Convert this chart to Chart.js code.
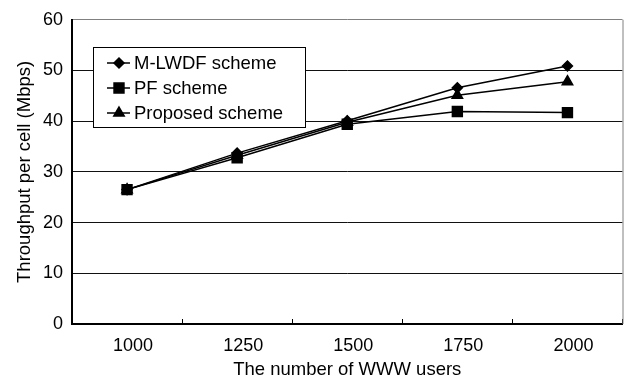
<!DOCTYPE html>
<html>
<head>
<meta charset="utf-8">
<script src="https://cdn.jsdelivr.net/npm/chart.js@4"></script>
<style>
  body { margin: 0; background: #fff; }
  canvas { display: block; }
</style>
</head>
<body>
<canvas id="thr" width="631" height="381"></canvas>
<script>
var users = ['1000', '1250', '1500', '1750', '2000'];
var mlwdf = [26.5, 33.7, 40.1, 46.6, 50.9];
var pf = [26.5, 32.8, 39.4, 41.9, 41.7];
var proposed = [26.5, 33.3, 39.8, 45.1, 47.8];

Chart.defaults.font.family = '"Liberation Sans", Arial, sans-serif';
Chart.defaults.font.size = 18;
Chart.defaults.color = '#000';

// legend box inside the plot + grey right border
var boxLegend = {
    id: 'boxLegend',
    afterDatasetsDraw: function(chart) {
        var c = chart.ctx, area = chart.chartArea;
        c.save();
        c.strokeStyle = '#808080';
        c.lineWidth = 1;
        c.beginPath();
        c.moveTo(area.right + 0.5, area.top);
        c.lineTo(area.right + 0.5, area.bottom);
        c.stroke();

        c.fillStyle = '#fff';
        c.fillRect(93.5, 47.5, 212, 80);
        c.strokeStyle = '#000';
        c.strokeRect(93.5, 47.5, 212, 80);
        c.font = '18.5px "Liberation Sans", Arial, sans-serif';
        c.textBaseline = 'middle';
        c.textAlign = 'left';
        chart.data.datasets.forEach(function(ds, i) {
            var y = 63 + i * 25;
            c.strokeStyle = '#000';
            c.lineWidth = 1.5;
            c.beginPath();
            c.moveTo(107, y);
            c.lineTo(130, y);
            c.stroke();
            c.fillStyle = '#000';
            Chart.helpers.drawPoint(c, {pointStyle: ds.pointStyle, radius: ds.pointRadius, borderWidth: 1}, 119, y);
            c.fillStyle = '#000';
            c.fillText(ds.label, 134, y + 1);
        });
        c.restore();
    }
};

new Chart(document.getElementById('thr').getContext('2d'), {
    type: 'line',
    data: {
        labels: users,
        datasets: [{
            label: 'M-LWDF scheme',
            data: mlwdf,
            borderColor: '#000',
            backgroundColor: '#000',
            borderWidth: 1.5,
            pointStyle: 'rectRot',
            pointRadius: 5,
            order: 2
        }, {
            label: 'PF scheme',
            data: pf,
            borderColor: '#000',
            backgroundColor: '#000',
            borderWidth: 1.5,
            pointStyle: 'rect',
            pointRadius: 7,
            order: 0
        }, {
            label: 'Proposed scheme',
            data: proposed,
            borderColor: '#000',
            backgroundColor: '#000',
            borderWidth: 1.5,
            pointStyle: 'triangle',
            pointRadius: 6,
            order: 1
        }]
    },
    options: {
        responsive: false,
        animation: false,
        layout: { padding: { top: 14, right: 6, left: 0, bottom: 0 } },
        plugins: {
            legend: { display: false },
            tooltip: { enabled: false }
        },
        scales: {
            x: {
                offset: true,
                grid: {
                    offset: true,
                    drawOnChartArea: false,
                    drawTicks: true,
                    tickLength: -5,
                    color: '#000'
                },
                border: { color: '#000', width: 2 },
                ticks: { padding: 16, labelOffset: 6, font: { size: 18 } },
                title: {
                    display: true,
                    text: 'The number of WWW users',
                    font: { size: 18.5 },
                    padding: { top: 0, bottom: 0 }
                },
                afterFit: function(s) { s.height = 57; }
            },
            y: {
                min: 0,
                max: 60,
                ticks: { stepSize: 10, padding: 9, font: { size: 18 } },
                grid: {
                    drawTicks: false,
                    color: function(ctx) { return ctx.tick && ctx.tick.value === 60 ? '#808080' : '#111'; }
                },
                border: { color: '#000', width: 2 },
                title: {
                    display: true,
                    text: 'Throughput per cell (Mbps)',
                    font: { size: 18.5 },
                    padding: { top: 14, bottom: 0 }
                },
                afterFit: function(s) { s.width = 72; }
            }
        }
    },
    plugins: [boxLegend]
});
</script>
</body>
</html>
